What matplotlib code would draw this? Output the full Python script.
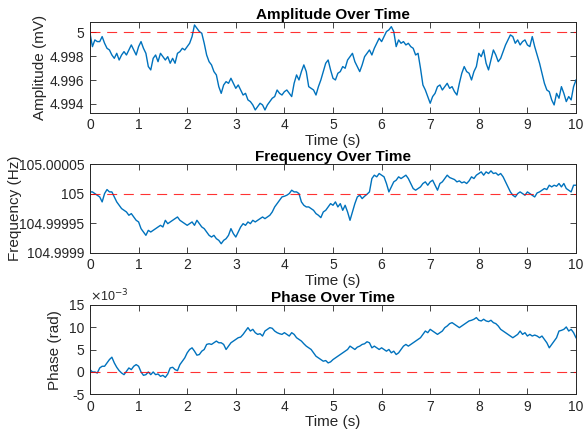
import numpy as np
import matplotlib
matplotlib.use("Agg")
import matplotlib.pyplot as plt

plt.rcParams['font.family'] = ['Liberation Sans', 'DejaVu Sans']

# time axis (s)
t = np.linspace(0, 10, 201)

# Amplitude offset from 5 mV, in microvolts
amp_offset_uV = [
    -0.08, -1.20, -0.64, -0.78, -0.78, -0.36, -0.92, -1.34, -1.48, -1.90, -2.18, -1.76, -2.32, -1.90, -1.62, -1.90, -1.48, -1.06, -1.48, -1.90,
    -1.20, -0.78, -1.34, -1.76, -2.87, -3.15, -2.18, -1.90, -2.46, -1.76, -2.04, -2.32, -2.04, -2.59, -2.18, -2.59, -1.76, -1.62, -1.34, -1.48,
    -1.20, -0.92, -0.36, 0.61, 0.33, 0.06, -0.08, -0.92, -1.90, -2.46, -2.73, -3.29, -3.57, -4.55, -5.11, -4.41, -4.13, -4.27, -3.85, -4.27,
    -4.69, -4.41, -4.83, -5.25, -5.11, -5.66, -5.80, -6.08, -6.50, -6.22, -5.94, -6.08, -6.50, -6.08, -5.80, -5.52, -5.38, -4.83, -5.11, -5.25,
    -4.97, -4.83, -5.11, -5.38, -4.27, -3.57, -3.99, -3.29, -2.73, -3.29, -4.55, -4.69, -4.83, -5.25, -4.55, -3.99, -3.29, -2.59, -2.32, -3.15,
    -3.85, -3.99, -3.43, -3.29, -2.87, -3.01, -2.32, -2.04, -1.76, -2.46, -2.87, -3.29, -2.73, -2.04, -1.76, -1.48, -1.90, -1.34, -0.92, -0.50,
    -0.78, -0.36, 0.06, 0.20, 0.47, 0.06, -1.20, -0.64, -0.92, -0.78, -1.06, -0.92, -1.20, -1.34, -1.90, -1.76, -3.01, -4.41, -4.83, -5.38,
    -5.94, -5.38, -5.11, -4.55, -4.41, -4.83, -4.55, -4.27, -4.69, -4.55, -4.97, -5.25, -4.27, -3.43, -2.87, -3.29, -3.43, -3.99, -3.29, -2.87,
    -1.76, -2.04, -1.48, -2.59, -3.15, -2.32, -1.48, -1.90, -2.46, -2.18, -1.62, -1.06, -0.64, -0.22, -0.36, -0.92, -0.64, -1.06, -0.78, -0.64,
    -1.06, -1.20, -0.36, -1.20, -1.90, -2.59, -3.43, -4.27, -4.83, -4.97, -5.66, -6.08, -5.11, -5.52, -4.55, -5.11, -5.80, -5.38, -5.66, -4.55,
    -3.99,
]

# Frequency offset from 105 Hz, in units of 10 microhertz
freq_offset_10uHz = [
    0.28, 0.28, 0.00, -0.28, -0.57, -1.41, 0.00, 0.68, 0.28, 0.28, -0.57, -1.41, -1.98, -2.54, -2.83, -3.11, -3.67, -3.39, -3.96, -4.52,
    -4.80, -5.93, -6.50, -7.06, -6.22, -6.50, -6.22, -5.93, -5.65, -5.37, -5.65, -4.52, -5.09, -4.80, -4.52, -4.24, -3.96, -4.52, -4.80, -5.09,
    -5.37, -5.09, -4.80, -5.37, -4.52, -5.09, -5.65, -5.93, -6.50, -7.06, -7.35, -7.06, -7.63, -7.91, -8.48, -7.91, -7.63, -7.06, -5.93, -6.78,
    -7.35, -6.50, -5.65, -5.09, -5.37, -4.80, -5.09, -4.52, -4.80, -4.52, -4.24, -3.96, -4.24, -3.96, -3.67, -3.11, -2.26, -1.70, -1.13, -0.57,
    -0.45, -0.28, 0.00, 0.57, 0.28, 0.28, 0.00, -1.41, -1.98, -2.26, -2.26, -2.54, -2.83, -3.39, -3.67, -4.07, -3.11, -2.83, -2.26, -1.70,
    -1.98, -1.41, -2.26, -1.70, -2.83, -1.98, -3.11, -4.52, -3.11, -1.70, -0.57, -0.28, -0.85, -0.45, -0.11, 0.28, 2.54, 3.11, 2.83, 3.39,
    3.11, 2.83, 1.70, 0.28, 1.13, 1.98, 2.26, 2.83, 2.54, 2.83, 3.11, 2.54, 1.70, 0.85, 0.57, 0.85, 1.13, 1.70, 1.98, 1.41,
    1.98, 2.26, 1.41, 0.57, 1.70, 1.98, 2.54, 3.11, 2.71, 2.54, 2.37, 1.98, 2.15, 1.81, 1.98, 1.70, 2.15, 2.83, 2.54, 3.11,
    3.39, 3.67, 3.11, 3.67, 3.39, 3.84, 3.39, 3.50, 3.11, 3.39, 2.83, 1.98, 1.13, 0.28, -0.28, -0.57, 0.00, 0.28, 0.00, -0.28,
    0.28, 0.00, -0.28, -0.57, 0.11, 0.28, 0.57, 0.85, 0.68, 1.41, 1.13, 1.41, 1.24, 1.70, 1.13, 1.70, 0.85, 0.57, 0.28, 1.41,
    1.41,
]

# Phase in milliradians
phase_mrad = [
    0.53, 0.00, 0.00, -0.23, 0.90, 1.28, 1.28, 2.03, 2.78, 3.31, 2.03, 1.05, 0.30, -0.23, -0.60, 0.15, 0.90, 0.53, 1.28, 1.65,
    1.28, 0.00, -0.75, -0.60, 0.00, -0.60, 0.00, -0.60, -0.45, -0.98, -0.75, -1.20, -0.45, 0.90, 1.05, 0.53, 0.30, 1.65, 2.41, 3.16,
    4.29, 5.04, 5.41, 4.66, 3.76, 3.91, 4.66, 5.04, 6.17, 6.32, 6.17, 6.54, 6.92, 6.54, 6.54, 6.17, 5.04, 5.79, 6.54, 6.92,
    7.29, 7.67, 7.82, 8.42, 9.17, 9.93, 9.17, 9.55, 8.80, 8.42, 8.57, 8.05, 9.17, 9.55, 9.93, 9.78, 9.17, 8.80, 8.57, 8.42,
    8.80, 8.42, 8.05, 8.80, 8.42, 7.67, 7.29, 6.92, 6.32, 5.79, 5.41, 5.04, 4.29, 3.53, 3.16, 2.78, 2.41, 2.56, 2.03, 2.26,
    2.78, 3.16, 3.53, 3.91, 4.29, 4.66, 5.04, 5.79, 5.41, 5.04, 5.56, 5.79, 6.17, 6.32, 6.77, 6.54, 5.41, 5.79, 5.41, 5.04,
    5.41, 5.04, 4.66, 5.04, 4.29, 4.66, 3.91, 4.29, 5.04, 5.79, 6.17, 5.79, 6.17, 6.54, 6.92, 7.29, 7.67, 8.42, 9.17, 8.80,
    9.55, 9.17, 8.80, 8.42, 8.80, 9.17, 9.93, 10.30, 10.83, 11.05, 10.68, 10.30, 9.93, 10.30, 10.68, 11.05, 11.43, 11.58, 11.81, 12.18,
    11.58, 11.43, 11.81, 11.43, 11.28, 11.58, 11.05, 10.83, 10.30, 9.55, 9.17, 8.80, 8.42, 8.05, 7.67, 8.05, 8.42, 9.17, 8.42, 8.80,
    8.05, 8.42, 8.05, 8.27, 8.05, 7.67, 8.05, 7.29, 6.54, 5.41, 6.17, 6.92, 7.67, 9.17, 9.32, 9.55, 10.08, 9.17, 9.55, 8.80,
    7.67,
]

amp_ref = 5.0
freq_ref = 105.0
phase_ref = 0.0

amplitude = amp_ref + np.array(amp_offset_uV) * 1e-3
frequency = freq_ref + np.array(freq_offset_10uHz) * 1e-5
phase = np.array(phase_mrad) * 1e-3

amp_ticks = [4.994, 4.996, 4.998, 5.0]
amp_ticklabels = ['4.994', '4.996', '4.998', '5']
freq_ticks = [104.9999, 104.99995, 105.0, 105.00005]
freq_ticklabels = ['104.9999', '104.99995', '105', '105.00005']
phase_ticks = [-5e-3, 0, 5e-3, 10e-3, 15e-3]
phase_ticklabels = ['-5', '0', '5', '10', '15']
x_ticks = list(range(0, 11))

W, H = 587, 434
fig = plt.figure(figsize=(W / 100, H / 100), dpi=100)

def px_axes(left, top, right, bottom):
    return fig.add_axes([left / W, 1 - bottom / H, (right - left) / W, (bottom - top) / H])

ax1 = px_axes(90, 22, 576, 112.7)
ax2 = px_axes(90, 164, 576, 252.7)
ax3 = px_axes(90, 305, 576, 394.3)

blue = '#0072BD'
axcol = '#262626'

def style(ax, title):
    ax.set_xlim(0, 10)
    ax.set_xticks(x_ticks)
    ax.tick_params(direction='in', length=4, width=0.6, colors=axcol, labelsize=10,
                   top=True, right=True, pad=4)
    for s in ax.spines.values():
        s.set_color(axcol)
        s.set_linewidth(0.7)
    ax.set_title(title, fontsize=11, fontweight='bold', pad=2, color='black')
    ax.set_xlabel('Time (s)', fontsize=11, labelpad=1, color=axcol)

ax1.plot(t, amplitude, color=blue, lw=1.0)
ax1.axhline(amp_ref, color='red', lw=0.8, ls=(0, (9, 6)), alpha=0.8)
style(ax1, 'Amplitude Over Time')
ax1.set_ylim(4.99327, 5.00086)
ax1.set_yticks(amp_ticks)
ax1.set_yticklabels(amp_ticklabels)
ax1.set_ylabel('Amplitude (mV)', fontsize=11, color=axcol)
ax1.yaxis.set_label_coords(-0.088, 0.5)

ax2.plot(t, frequency, color=blue, lw=1.0)
ax2.axhline(freq_ref, color='red', lw=0.8, ls=(0, (9, 6)), alpha=0.8)
style(ax2, 'Frequency Over Time')
ax2.set_ylim(104.9999, 105.00005)
ax2.set_yticks(freq_ticks)
ax2.set_yticklabels(freq_ticklabels)
ax2.set_ylabel('Frequency (Hz)', fontsize=11, color=axcol)
ax2.yaxis.set_label_coords(-0.14, 0.5)

ax3.plot(t, phase, color=blue, lw=1.0)
ax3.axhline(phase_ref, color='red', lw=0.8, ls=(0, (9, 6)), alpha=0.8)
style(ax3, 'Phase Over Time')
ax3.set_ylim(-5e-3, 15e-3)
ax3.set_yticks(phase_ticks)
ax3.set_yticklabels(phase_ticklabels)
ax3.set_ylabel('Phase (rad)', fontsize=11, color=axcol)
ax3.yaxis.set_label_coords(-0.058, 0.5)
ax3.text(0.0, 1.01, r'$\times$10$^{-3}$', transform=ax3.transAxes, fontsize=9,
         ha='left', va='bottom', color=axcol)

fig.savefig('out.png', dpi=100)
